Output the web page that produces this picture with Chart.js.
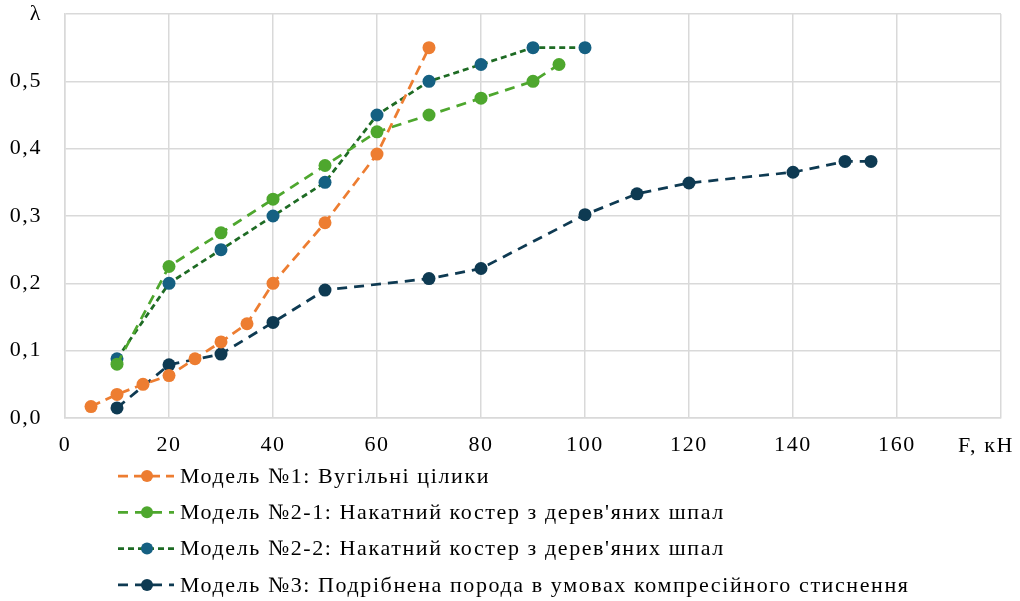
<!DOCTYPE html>
<html>
<head>
<meta charset="utf-8">
<script src="https://cdn.jsdelivr.net/npm/chart.js@4"></script>
<style>
  html, body { margin: 0; padding: 0; background: #fff; }
  #wrap { width: 1020px; height: 601px; }
</style>
</head>
<body>
<div id="wrap"><canvas id="chart"></canvas></div>
<script>
// data
var seriesNames = [
	"Модель №1: Вугільні цілики",
	"Модель №2-1: Накатний костер з дерев'яних шпал",
	"Модель №2-2: Накатний костер з дерев'яних шпал",
	"Модель №3: Подрібнена порода в умовах компресійного стиснення"
];
var f1 = [5, 10, 15, 20, 25, 30, 35, 40, 50, 60, 70];
var l1 = [0.017, 0.035, 0.05, 0.063, 0.088, 0.113, 0.14, 0.2, 0.29, 0.392, 0.55];
var f21 = [10, 20, 30, 40, 50, 60, 70, 80, 90, 95];
var l21 = [0.08, 0.225, 0.275, 0.325, 0.375, 0.425, 0.45, 0.475, 0.5, 0.525];
var f22 = [10, 20, 30, 40, 50, 60, 70, 80, 90, 100];
var l22 = [0.088, 0.2, 0.25, 0.3, 0.35, 0.45, 0.5, 0.525, 0.55, 0.55];
var f3 = [10, 20, 30, 40, 50, 70, 80, 100, 110, 120, 140, 150, 155];
var l3 = [0.015, 0.079, 0.095, 0.142, 0.19, 0.207, 0.222, 0.302, 0.333, 0.349, 0.365, 0.381, 0.381];
var xTicks = [0, 20, 40, 60, 80, 100, 120, 140, 160];
var yTicks = [0, 0.1, 0.2, 0.3, 0.4, 0.5];
var xTitle = "F, кН";
var yTitle = "λ";

var FONT = "'Liberation Serif', 'Times New Roman', serif";
var FSIZE = 22;
var SPACING = '1.6px'; // the original text is drawn a bit wide

function pts(xs, ys) {
	var out = [];
	for (var i = 0; i < xs.length; i++) out.push({x: xs[i], y: ys[i]});
	return out;
}

function ds(label, xs, ys, line, marker, dash) {
	return {
		label: label,
		data: pts(xs, ys),
		showLine: true,
		borderColor: line,
		backgroundColor: marker,
		pointBackgroundColor: marker,
		pointBorderColor: marker,
		pointBorderWidth: 0,
		pointRadius: 6.5,
		pointHoverRadius: 6.5,
		borderWidth: 2.75,
		borderDash: dash,
		tension: 0
	};
}

// canvas resets its state on resize, so keep putting the spacing back
var wideText = {
	id: 'wideText',
	beforeUpdate: function(chart) { chart.ctx.letterSpacing = SPACING; },
	beforeLayout: function(chart) { chart.ctx.letterSpacing = SPACING; },
	beforeDraw: function(chart) { chart.ctx.letterSpacing = SPACING; }
};

// legend drawn one entry per row, like the original
var rowLegend = {
	id: 'rowLegend',
	afterDraw: function(chart) {
		var ctx = chart.ctx;
		var x0 = 118, x1 = 174, y0 = 476, step = 36.3;
		ctx.save();
		ctx.letterSpacing = SPACING;
		chart.data.datasets.forEach(function(d, i) {
			var y = y0 + i * step;
			ctx.strokeStyle = d.borderColor;
			ctx.lineWidth = d.borderWidth;
			ctx.setLineDash(d.borderDash);
			ctx.beginPath();
			ctx.moveTo(x0, y);
			ctx.lineTo(x1, y);
			ctx.stroke();
			ctx.setLineDash([]);
			ctx.fillStyle = d.pointBackgroundColor;
			ctx.beginPath();
			ctx.arc((x0 + x1) / 2 + 1, y, 6, 0, Math.PI * 2);
			ctx.fill();
			ctx.fillStyle = '#000';
			ctx.font = FSIZE + "px " + FONT;
			ctx.textAlign = 'left';
			ctx.textBaseline = 'middle';
			ctx.fillText(d.label, x1 + 6, y + 1);
		});
		// x axis name sits where the 180 label would be
		var xs = chart.scales.x;
		ctx.textAlign = 'center';
		ctx.fillText(xTitle, xs.getPixelForValue(180) - 15, 446);
		ctx.restore();
	}
};

var chart = new Chart(document.getElementById("chart").getContext('2d'), {
	type: 'scatter',
	data: {
		datasets: [
			ds(seriesNames[0], f1, l1, "#ED7D31", "#ED7D31", [10, 6]),
			ds(seriesNames[1], f21, l21, "#4EA72E", "#4EA72E", [10, 7]),
			ds(seriesNames[2], f22, l22, "#1E6B24", "#156082", [6, 4]),
			ds(seriesNames[3], f3, l3, "#0E3A52", "#0E3A52", [10, 7])
		]
	},
	options: {
		responsive: true,
		maintainAspectRatio: false,
		animation: false,
		layout: { autoPadding: false, padding: { left: 10, right: 19, top: 14, bottom: 143 } },
		plugins: {
			legend: { display: false },
			tooltip: { enabled: false }
		},
		scales: {
			x: {
				type: 'linear',
				min: 0,
				max: 180,
				afterBuildTicks: function(axis) {
					axis.ticks = xTicks.concat([180]).map(function(v) { return {value: v}; });
				},
				afterFit: function(axis) {
					axis.paddingLeft = 0;
					axis.paddingRight = 0;
					axis.height = 40;
				},
				ticks: {
					color: '#000',
					padding: 14,
					maxRotation: 0,
					font: { family: FONT, size: FSIZE },
					callback: function(v) { return v === 180 ? '' : String(v); }
				},
				grid: { color: '#d9d9d9', lineWidth: 1.5, drawTicks: false },
				border: { color: '#d9d9d9', width: 1.5 }
			},
			y: {
				min: 0,
				max: 0.6,
				afterBuildTicks: function(axis) {
					axis.ticks = yTicks.concat([0.6]).map(function(v) { return {value: v}; });
				},
				afterFit: function(axis) {
					axis.paddingTop = 0;
					axis.paddingBottom = 0;
					axis.width = 55;
				},
				ticks: {
					color: '#000',
					padding: 23,
					font: { family: FONT, size: FSIZE },
					callback: function(v) {
						if (Math.abs(v - 0.6) < 1e-9) return yTitle;
						return v.toFixed(1).replace('.', ',');
					}
				},
				grid: { color: '#d9d9d9', lineWidth: 1.5, drawTicks: false },
				border: { color: '#d9d9d9', width: 1.5 }
			}
		}
	},
	plugins: [wideText, rowLegend]
});
</script>
</body>
</html>
